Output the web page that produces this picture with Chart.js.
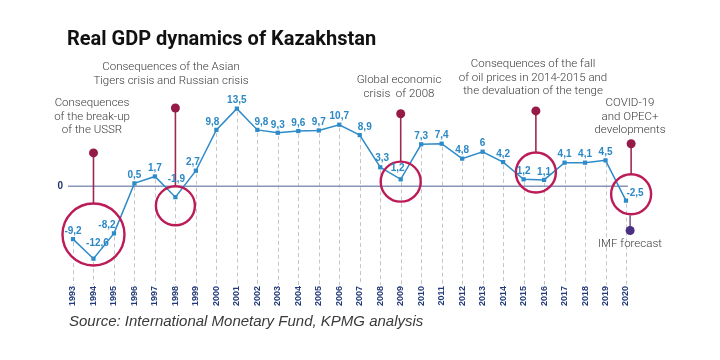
<!DOCTYPE html>
<html>
<head>
<meta charset="utf-8">
<script src="https://cdn.jsdelivr.net/npm/chart.js@4.4.1/dist/chart.umd.min.js"></script>
<style>
  html, body { margin: 0; padding: 0; background: #fff; }
  #wrap { position: relative; width: 720px; height: 360px; overflow: hidden; font-family: Roboto, "Liberation Sans", sans-serif; }
  canvas { position: absolute; left: 0; top: 0; }
  .title { position: absolute; left: 67px; top: 26px; font-size: 20px; font-weight: 700; color: #111; white-space: nowrap; }
  .note { position: absolute; transform: translateX(-50%); text-align: center; font-size: 11.5px; line-height: 13.5px; color: #3a3a3a; font-weight: 300; white-space: nowrap; }
  .source { position: absolute; left: 69px; top: 312px; font-family: "Liberation Sans", Arial, sans-serif; font-size: 15px; font-style: italic; color: #3a3a3a; white-space: nowrap; }
</style>
</head>
<body>
<div id="wrap">
  <canvas id="gdp" width="720" height="360"></canvas>
  <div class="title">Real GDP dynamics of Kazakhstan</div>
  <div class="note" style="left:92px; top:96px">Consequences<br>of the break-up<br>of the USSR</div>
  <div class="note" style="left:171px; top:60px">Consequences of the Asian<br>Tigers crisis and Russian crisis</div>
  <div class="note" style="left:399px; top:73px">Global economic<br>crisis&nbsp; of 2008</div>
  <div class="note" style="left:533px; top:57px">Consequences of the fall<br>of oil prices in 2014-2015 and<br>the devaluation of the tenge</div>
  <div class="note" style="left:630px; top:96px">COVID-19<br>and OPEC+<br>developments</div>
  <div class="note" style="left:630px; top:237px">IMF forecast</div>
  <div class="source">Source: International Monetary Fund, KPMG analysis</div>
</div>
<script>
const years = ['1993', '1994', '1995', '1996', '1997', '1998', '1999', '2000', '2001', '2002',
  '2003', '2004', '2005', '2006', '2007', '2008', '2009', '2010', '2011', '2012',
  '2013', '2014', '2015', '2016', '2017', '2018', '2019', '2020'];
const gdpGrowth = [-9.2, -12.6, -8.2, 0.5, 1.7, -1.9, 2.7, 9.8, 13.5, 9.8,
  9.3, 9.6, 9.7, 10.7, 8.9, 3.3, 1.2, 7.3, 7.4, 4.8,
  6, 4.2, 1.2, 1.1, 4.1, 4.1, 4.5, -2.5];

// crisis highlights: where the ring sits (x index, y value) and where its pin head is
const crisisAt = [1, 5, 16, 22.6, 27.25];
const crisisLevel = [-8.4, -3.4, 0.8, 2.4, -1.4];
const crisisPin = [5.8, 13.6, 12.6, 13.1, 7.4];
const forecastPin = -7.7;

const ringRadius = [31, 19.5, 20, 20, 20];

// small nudges for value labels that sit off-centre in the original (dx, dy px)
const labelNudge = { 1: [4, -15], 2: [-7, -8], 5: [1, -18], 6: [-3, -8], 7: [-4, -8], 9: [4, -8],
  14: [5, -8], 15: [2, -9], 16: [-3, -11], 27: [9, -7] };

const fmt = v => String(v).replace('.', ',');

const decor = {
  id: 'decor',
  beforeDatasetsDraw(chart) {
    const { ctx, chartArea, scales: { x, y } } = chart;
    ctx.save();
    ctx.strokeStyle = '#c6c6c6';
    ctx.lineWidth = 1;
    ctx.setLineDash([4, 3]);
    gdpGrowth.forEach((v, i) => {
      const px = Math.round(x.getPixelForValue(i)) + 0.5;
      ctx.beginPath();
      ctx.moveTo(px, y.getPixelForValue(v) + 3);
      ctx.lineTo(px, chartArea.bottom + 1);
      ctx.stroke();
    });
    ctx.setLineDash([]);

    const zy = y.getPixelForValue(0);
    ctx.strokeStyle = '#8795b6';
    ctx.lineWidth = 1.3;
    ctx.beginPath();
    ctx.moveTo(chartArea.left - 5, zy);
    ctx.lineTo(chartArea.right + 2, zy);
    ctx.stroke();
    ctx.fillStyle = '#1f3470';
    ctx.font = 'bold 10px "Liberation Sans"';
    ctx.textAlign = 'right';
    ctx.textBaseline = 'middle';
    ctx.fillText('0', chartArea.left - 10, zy);
    ctx.restore();
  },
  afterDatasetsDraw(chart) {
    const { ctx, scales: { x, y } } = chart;
    ctx.save();

    crisisAt.forEach((xi, k) => {
      const cx = x.getPixelForValue(xi);
      const cy = y.getPixelForValue(crisisLevel[k]);
      const py = y.getPixelForValue(crisisPin[k]);
      const r = ringRadius[k];
      ctx.strokeStyle = '#9c2a55';
      ctx.lineWidth = 1.6;
      ctx.beginPath();
      ctx.moveTo(cx, py);
      ctx.lineTo(cx, cy - r);
      ctx.stroke();
      ctx.fillStyle = '#961a47';
      ctx.beginPath();
      ctx.arc(cx, py, 4.5, 0, Math.PI * 2);
      ctx.fill();
      ctx.strokeStyle = '#bb1b56';
      ctx.lineWidth = 2.4;
      ctx.beginPath();
      ctx.arc(cx, cy, r, 0, Math.PI * 2);
      ctx.stroke();
    });

    // forecast pin below the last ring
    const last = crisisAt.length - 1;
    const fx = x.getPixelForValue(crisisAt[last]) - 1;
    const fy = y.getPixelForValue(forecastPin);
    ctx.strokeStyle = '#7b5e92';
    ctx.lineWidth = 1.6;
    ctx.beginPath();
    ctx.moveTo(fx, y.getPixelForValue(crisisLevel[last]) + ringRadius[last] + 1);
    ctx.lineTo(fx, fy);
    ctx.stroke();
    ctx.fillStyle = '#4a2f82';
    ctx.beginPath();
    ctx.arc(fx, fy, 4.5, 0, Math.PI * 2);
    ctx.fill();

    // value labels
    ctx.fillStyle = '#2b88c4';
    ctx.font = 'bold 10px "Liberation Sans"';
    ctx.textAlign = 'center';
    ctx.textBaseline = 'middle';
    gdpGrowth.forEach((v, i) => {
      const [dx, dy] = labelNudge[i] || [0, -8];
      ctx.fillText(fmt(v), x.getPixelForValue(i) + dx, y.getPixelForValue(v) + dy);
    });
    ctx.restore();
  }
};

new Chart(document.getElementById('gdp'), {
  type: 'line',
  data: {
    labels: years,
    datasets: [{
      data: gdpGrowth,
      borderColor: '#2e8bc9',
      borderWidth: 1.5,
      pointStyle: 'rect',
      pointRadius: 3,
      pointBackgroundColor: '#2e8bc9',
      pointBorderWidth: 0,
      tension: 0
    }]
  },
  options: {
    responsive: false,
    animation: false,
    events: [],
    layout: { padding: { left: 73, right: 94, top: 100, bottom: 52 } },
    plugins: { legend: { display: false }, tooltip: { enabled: false } },
    scales: {
      x: {
        offset: false,
        grid: { display: false, drawTicks: false },
        border: { display: false },
        ticks: {
          autoSkip: false,
          minRotation: 90,
          maxRotation: 90,
          padding: 2,
          color: '#22397a',
          font: { family: '"Liberation Sans", Arial, sans-serif', size: 9, weight: 'bold' }
        }
      },
      y: { display: false, min: -17, max: 15 }
    }
  },
  plugins: [decor]
});
</script>
</body>
</html>
